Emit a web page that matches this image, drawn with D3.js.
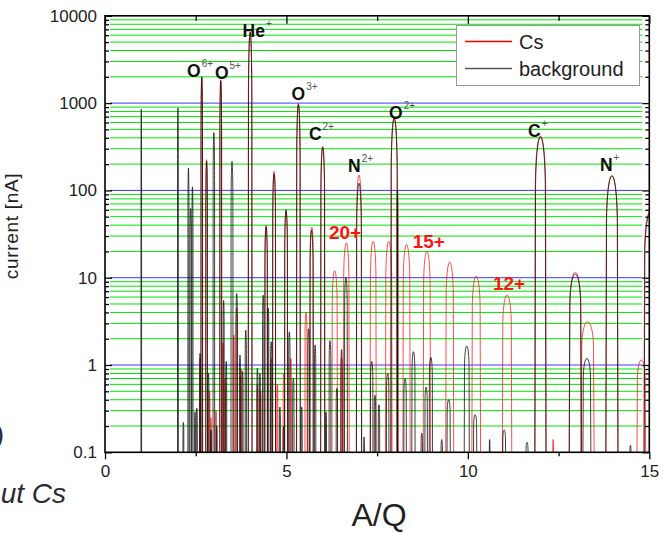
<!DOCTYPE html>
<html><head><meta charset="utf-8">
<script src="https://cdn.jsdelivr.net/npm/d3@7"></script>
<style>
body{margin:0;background:#fff;}
svg{display:block;font-family:"Liberation Sans",Arial,Helvetica,sans-serif;}
</style>
</head><body>
<svg id="chart" width="664" height="533"></svg>
<script>
// ---------------- data ----------------
const xTickValues = [0, 5, 10, 15];
const xMinorTickValues = [2.5, 7.5, 12.5];
const yDecades = [0.1, 1, 10, 100, 1000, 10000];
const yTickLabels = ["0.1", "1", "10", "100", "1000", "10000"];

// background spectrum: peak position (A/Q), peak current (nA), half width at 0.1 nA (A/Q)
const bgAQ = [1.00, 2.01, 2.16, 2.30, 2.36, 2.41, 2.48, 2.53, 2.62, 2.667, 2.80, 2.85, 2.92, 3.00, 3.08, 3.19, 3.27, 3.34, 3.50, 3.63,
  3.72, 3.79, 3.88, 4.00, 4.20, 4.27, 4.36, 4.44, 4.50, 4.58, 4.66, 4.82, 4.92, 4.99, 5.08, 5.19, 5.33, 5.42, 5.61, 5.69,
  5.79, 6.00, 6.09, 6.20, 6.39, 6.52, 6.64, 7.00, 7.14, 7.35, 7.44, 7.55, 7.79, 7.97, 8.06, 8.27, 8.50, 8.73, 8.85, 8.98,
  9.28, 9.47, 9.97, 10.20, 10.60, 11.00, 11.63, 12.00, 12.96, 13.28, 13.97, 14.48, 15.03];
const bgCurrent = [850, 880, 0.22, 180, 62, 110, 0.29, 0.32, 1.36, 2000, 215, 0.8, 0.18, 460, 0.2, 1800, 5.5, 1.1, 215, 6.6,
  1.3, 0.85, 2.5, 6500, 0.92, 0.8, 6.3, 38, 4.5, 1.85, 155, 0.33, 0.2, 60, 2.4, 0.7, 960, 0.33, 2.6, 35,
  1.7, 310, 0.29, 1.9, 0.54, 1.5, 10, 121, 0.15, 1.1, 0.45, 0.35, 0.8, 670, 100, 0.7, 1.42, 0.165, 0.56, 1.22,
  0.14, 0.4, 1.65, 0.27, 0.14, 0.18, 0.13, 410, 11, 1.19, 146, 0.12, 55];
const bgHalfWidth = [0.008, 0.012, 0.012, 0.016, 0.02, 0.016, 0.012, 0.015, 0.015, 0.022, 0.022, 0.015, 0.012, 0.022, 0.012, 0.025, 0.015, 0.015, 0.028, 0.02,
  0.015, 0.015, 0.018, 0.05, 0.015, 0.015, 0.02, 0.035, 0.015, 0.02, 0.04, 0.015, 0.015, 0.04, 0.02, 0.02, 0.05, 0.015, 0.022, 0.045,
  0.02, 0.055, 0.015, 0.025, 0.02, 0.02, 0.04, 0.07, 0.01, 0.035, 0.02, 0.02, 0.035, 0.09, 0.012, 0.035, 0.045, 0.02, 0.035, 0.045,
  0.02, 0.045, 0.07, 0.045, 0.006, 0.04, 0.03, 0.15, 0.165, 0.11, 0.165, 0.02, 0.17];

// Cs spectrum
const csAQ = [2.62, 2.667, 2.80, 2.88, 2.92, 3.06, 3.19, 3.25, 3.31, 3.55, 3.63, 3.75, 4.00, 4.20, 4.29, 4.44, 4.59, 4.66, 4.75, 4.93,
  4.99, 5.12, 5.33, 5.54, 5.70, 6.00, 6.33, 6.52, 6.65, 7.00, 7.39, 7.82, 7.97, 8.06, 8.31, 8.87, 9.50, 10.23, 11.08, 12.00,
  12.35, 12.96, 13.30, 13.97, 14.78, 15.03];
const csCurrent = [1.2, 1950, 225, 0.5, 0.25, 0.3, 1850, 1.8, 0.7, 2.2, 4.5, 0.9, 6500, 0.6, 0.5, 40, 1.2, 165, 0.6, 0.8,
  58, 1.2, 990, 4, 38, 320, 12, 1.2, 25, 150, 26, 26, 680, 100, 24, 20, 15, 10.4, 6.3, 420,
  0.14, 11.5, 3.13, 148, 1.14, 58];
const csHalfWidth = [0.015, 0.024, 0.025, 0.015, 0.012, 0.012, 0.028, 0.015, 0.012, 0.015, 0.022, 0.015, 0.055, 0.015, 0.015, 0.038, 0.02, 0.045, 0.015, 0.02,
  0.042, 0.02, 0.055, 0.03, 0.05, 0.06, 0.075, 0.02, 0.08, 0.075, 0.085, 0.09, 0.095, 0.015, 0.1, 0.1, 0.11, 0.12, 0.13, 0.16,
  0.01, 0.17, 0.18, 0.17, 0.12, 0.18];

// ion labels: name, charge superscript, anchor (A/Q, current) of label baseline-left
const ionNames = ["O", "O", "He", "O", "C", "N", "O", "C", "N"];
const ionCharges = ["6+", "5+", "+", "3+", "2+", "2+", "2+", "+", "+"];
const ionLabelAQ = [2.26, 3.03, 3.79, 5.14, 5.62, 6.70, 7.83, 11.66, 13.64];
const ionLabelCurrent = [2005, 1874, 5765, 1086, 378, 164, 652, 406, 168];

const csChargeLabels = ["20+", "15+", "12+"];
const csLabelAQ = [6.17, 8.48, 10.69];
const csLabelCurrent = [27.7, 21.9, 7.2];

const seriesNames = ["Cs", "background"];
const peakFloor = 0.09;

// ---------------- drawing ----------------
const W = 664, H = 533;
const L = 105, R = 649.3, T = 15.8, B = 452.3;
const x = d3.scaleLinear().domain([0, 15]).range([L, R]);
const y = d3.scaleLog().domain([0.1, 10000]).range([B, T]);

const svg = d3.select("#chart");
svg.append("rect").attr("width", W).attr("height", H).attr("fill", "#fff");

// grid
const allTicks = y.ticks();
const isDecade = v => Math.abs(Math.log10(v) - Math.round(Math.log10(v))) < 1e-9;
const minorTicks = allTicks.filter(v => !isDecade(v));
const grid = svg.append("g");
grid.selectAll("line.minor").data(minorTicks).join("line")
  .attr("x1", L + 5).attr("x2", R - 7)
  .attr("y1", d => y(d)).attr("y2", d => y(d))
  .attr("stroke", "#00e400").attr("stroke-width", 1);
grid.selectAll("line.dec").data(yDecades.filter(v => v > 0.1 && v < 10000)).join("line")
  .attr("x1", L + 5).attr("x2", R - 7)
  .attr("y1", d => y(d)).attr("y2", d => y(d))
  .attr("stroke", "#3a3aff").attr("stroke-width", 1);

// spectra: each peak drawn as an arch (steep sides, rounded cap) through the scales
svg.append("clipPath").attr("id", "plotclip").append("rect")
  .attr("x", L).attr("y", T).attr("width", R - L).attr("height", B - T);
function archPath(a, cur, hw) {
  const X0 = x(a), w = Math.max(x(a + hw) - X0, 0.3);
  const Yb = y(peakFloor), Ya = y(cur), h = Yb - Ya;
  const c = Math.min(h, 0.15 * h + 5);
  const p = d3.path();
  p.moveTo(X0 - w, Yb);
  p.lineTo(X0 - 0.9 * w, Ya + c);
  p.bezierCurveTo(X0 - 0.88 * w, Ya + 0.45 * c, X0 - 0.5 * w, Ya, X0, Ya);
  p.bezierCurveTo(X0 + 0.5 * w, Ya, X0 + 0.88 * w, Ya + 0.45 * c, X0 + 0.9 * w, Ya + c);
  p.lineTo(X0 + w, Yb);
  return p.toString();
}
const plot = svg.append("g").attr("clip-path", "url(#plotclip)");
plot.append("g").selectAll("path").data(csAQ.map((a, i) => i)).join("path")
  .attr("d", i => archPath(csAQ[i], csCurrent[i], csHalfWidth[i]))
  .attr("fill", "none").attr("stroke", "#ff0000").attr("stroke-width", 1).attr("stroke-opacity", 0.7);
plot.append("g").selectAll("path").data(bgAQ.map((a, i) => i)).join("path")
  .attr("d", i => archPath(bgAQ[i], bgCurrent[i], bgHalfWidth[i]))
  .attr("fill", "none").attr("stroke", "#111").attr("stroke-width", 1).attr("stroke-opacity", 0.8);

// axes
const fmt = (d) => yTickLabels[yDecades.indexOf(d)];
const axFont = g => g.selectAll("text").attr("font-size", 17).attr("fill", "#222")
  .attr("font-family", "'Liberation Sans',Arial,sans-serif");
const clean = g => { g.select(".domain").remove(); g.selectAll("line").attr("stroke", "#000").attr("stroke-width", 1.3); };

svg.append("g").attr("transform", `translate(${L},0)`)
  .call(d3.axisLeft(y).tickValues(yDecades).tickSize(-7).tickPadding(8).tickFormat(fmt)).call(clean).call(axFont);
svg.append("g").attr("transform", `translate(${L},0)`)
  .call(d3.axisLeft(y).tickValues(minorTicks).tickSize(-4).tickFormat("")).call(clean);
svg.append("g").attr("transform", `translate(${R},0)`)
  .call(d3.axisRight(y).tickValues(yDecades).tickSize(-7).tickFormat("")).call(clean);
svg.append("g").attr("transform", `translate(${R},0)`)
  .call(d3.axisRight(y).tickValues(minorTicks).tickSize(-4).tickFormat("")).call(clean);
svg.append("g").attr("transform", `translate(0,${B})`)
  .call(d3.axisBottom(x).tickValues(xTickValues).tickSize(7).tickPadding(6).tickFormat(d3.format("d"))).call(clean).call(axFont);
svg.append("g").attr("transform", `translate(0,${B})`)
  .call(d3.axisBottom(x).tickValues(xMinorTickValues).tickSize(4).tickFormat("")).call(clean);
svg.append("g").attr("transform", `translate(0,${T})`)
  .call(d3.axisTop(x).tickValues(xTickValues).tickSize(-8).tickFormat("")).call(clean);
svg.append("g").attr("transform", `translate(0,${T})`)
  .call(d3.axisTop(x).tickValues(xMinorTickValues).tickSize(-5).tickFormat("")).call(clean);

svg.append("rect").attr("x", L).attr("y", T).attr("width", R - L).attr("height", B - T)
  .attr("fill", "none").attr("stroke", "#000").attr("stroke-width", 1.6);

// ion labels
const ionG = svg.append("g");
ionNames.forEach((n, i) => {
  const t = ionG.append("text").attr("x", x(ionLabelAQ[i])).attr("y", y(ionLabelCurrent[i]))
    .attr("font-size", 17.5).attr("font-weight", "bold").attr("fill", "#111");
  t.append("tspan").text(n);
  t.append("tspan").attr("dy", -10).attr("dx", 1).attr("font-size", 10).attr("font-weight", "normal").attr("fill", "#555").text(ionCharges[i]);
});
csChargeLabels.forEach((c, i) => {
  svg.append("text").attr("x", x(csLabelAQ[i])).attr("y", y(csLabelCurrent[i]))
    .attr("font-size", 19).attr("font-weight", "bold").attr("fill", "#ff1414").text(c);
});

// legend
const lg = svg.append("g");
lg.append("rect").attr("x", 456.5).attr("y", 25.5).attr("width", 183).attr("height", 60)
  .attr("fill", "#fff").attr("stroke", "#9a9a9a").attr("stroke-width", 1);
const legendColors = ["#ff0000", "#555"];
const legendY = [41.5, 68.5];
seriesNames.forEach((s, i) => {
  lg.append("line").attr("x1", 465).attr("x2", 512).attr("y1", legendY[i]).attr("y2", legendY[i])
    .attr("stroke", legendColors[i]).attr("stroke-width", 1.6);
  lg.append("text").attr("x", 519).attr("y", legendY[i] + 7).attr("font-size", 20).attr("fill", "#222").text(s);
});

// axis titles
svg.append("text").attr("x", 379).attr("y", 526).attr("text-anchor", "middle")
  .attr("font-size", 32).attr("fill", "#222").text("A/Q");
svg.append("text").attr("transform", "translate(18,226) rotate(-90)").attr("text-anchor", "middle")
  .attr("font-size", 19).attr("letter-spacing", 0.7).attr("fill", "#222").text("current [nA]");

// cropped slide text at left edge
svg.append("text").attr("x", 66).attr("y", 503).attr("text-anchor", "end")
  .attr("font-size", 28).attr("font-style", "italic").attr("fill", "#2a2a38").text("without Cs");
svg.append("text").attr("x", 4).attr("y", 446).attr("text-anchor", "end")
  .attr("font-size", 28).attr("font-style", "italic").attr("fill", "#2a2a38").text("(with Cs)");
</script>
</body></html>
